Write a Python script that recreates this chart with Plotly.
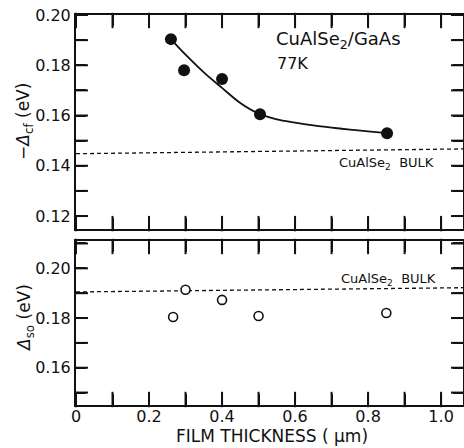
import plotly.graph_objects as go

# Top panel: -Delta_cf data (filled circles)
thick_cf = [0.26, 0.296, 0.40, 0.504, 0.852]
dcf = [0.1904, 0.178, 0.1745, 0.1605, 0.1529]
# fitted curve
curve_x = [0.26, 0.30, 0.35, 0.40, 0.45, 0.50, 0.55, 0.60, 0.65, 0.70, 0.75, 0.80, 0.852]
curve_y = [0.1904, 0.1842, 0.1772, 0.1710, 0.1650, 0.1608, 0.1585, 0.1572, 0.1561, 0.1552, 0.1544, 0.1537, 0.1530]
bulk_cf_x = [0.0, 1.06]
bulk_cf_y = [0.1448, 0.1467]

# Bottom panel: Delta_so data (open circles)
thick_so = [0.266, 0.30, 0.40, 0.50, 0.85]
dso = [0.1804, 0.1914, 0.1873, 0.1808, 0.1820]
bulk_so_x = [0.0, 1.06]
bulk_so_y = [0.1905, 0.1922]

x_range = [0.0, 1.06]
y1_range = [0.1148, 0.20]
y2_range = [0.145, 0.211]
x_tickvals = [0, 0.1, 0.2, 0.3, 0.4, 0.5, 0.6, 0.7, 0.8, 0.9, 1.0]
x_ticktext = ["0", "", "0.2", "", "0.4", "", "0.6", "", "0.8", "", "1.0"]
y1_tickvals = [0.12, 0.13, 0.14, 0.15, 0.16, 0.17, 0.18, 0.19, 0.20]
y1_ticktext = ["0.12", "", "0.14", "", "0.16", "", "0.18", "", "0.20"]
y2_tickvals = [0.15, 0.16, 0.17, 0.18, 0.19, 0.20, 0.21]
y2_ticktext = ["", "0.16", "", "0.18", "", "0.20", ""]

FONT = "DejaVu Sans"
BLACK = "#111111"

L, R, T, B = 76, 1, 15, 43
W, H = 464 - L - R, 448 - T - B
TOP_DOM = [0.451, 1.0]
BOT_DOM = [0.0, 0.4205]
XTICK_PX, YTICK_PX = 11, 10

fig = go.Figure()

# inward tick marks drawn as short line markers sitting just inside each frame edge
for xa, ya, yr, yvals, dom in (("x", "y", y1_range, y1_tickvals, TOP_DOM),
                               ("x2", "y2", y2_range, y2_tickvals, BOT_DOM)):
    ph = (dom[1] - dom[0]) * H
    half_dy = XTICK_PX / 2 / ph * (yr[1] - yr[0])
    half_dx = YTICK_PX / 2 / W * (x_range[1] - x_range[0])
    fig.add_trace(go.Scatter(
        x=x_tickvals * 2,
        y=[yr[0] + half_dy] * len(x_tickvals) + [yr[1] - half_dy] * len(x_tickvals),
        mode="markers", hoverinfo="skip", cliponaxis=False,
        marker=dict(symbol="line-ns", size=XTICK_PX, line=dict(width=2, color=BLACK)),
        xaxis=xa, yaxis=ya, showlegend=False))
    fig.add_trace(go.Scatter(
        x=[x_range[0] + half_dx] * len(yvals) + [x_range[1] - half_dx] * len(yvals),
        y=yvals * 2,
        mode="markers", hoverinfo="skip", cliponaxis=False,
        marker=dict(symbol="line-ew", size=YTICK_PX, line=dict(width=2, color=BLACK)),
        xaxis=xa, yaxis=ya, showlegend=False))

fig.add_trace(go.Scatter(x=bulk_cf_x, y=bulk_cf_y, mode="lines",
                         line=dict(color=BLACK, width=1.3, dash="4px,3px"),
                         xaxis="x", yaxis="y", showlegend=False))
fig.add_trace(go.Scatter(x=curve_x, y=curve_y, mode="lines",
                         line=dict(color=BLACK, width=1.8, shape="spline"),
                         xaxis="x", yaxis="y", showlegend=False))
fig.add_trace(go.Scatter(x=thick_cf, y=dcf, mode="markers",
                         marker=dict(color=BLACK, size=12),
                         xaxis="x", yaxis="y", showlegend=False))
fig.add_trace(go.Scatter(x=bulk_so_x, y=bulk_so_y, mode="lines",
                         line=dict(color=BLACK, width=1.3, dash="4px,3px"),
                         xaxis="x2", yaxis="y2", showlegend=False))
fig.add_trace(go.Scatter(x=thick_so, y=dso, mode="markers",
                         marker=dict(color="white", size=9, line=dict(color=BLACK, width=1.6)),
                         xaxis="x2", yaxis="y2", showlegend=False))

common_x = dict(range=x_range, showgrid=False, zeroline=False, showline=True,
                linecolor=BLACK, linewidth=2, mirror="allticks", ticks="inside",
                ticklen=XTICK_PX, tickwidth=2, tickcolor=BLACK, automargin=False,
                tickmode="array", tickvals=x_tickvals, ticktext=x_ticktext)
common_y = dict(showgrid=False, zeroline=False, showline=True, linecolor=BLACK,
                linewidth=2, mirror="allticks", ticks="inside", ticklen=YTICK_PX,
                tickwidth=2, tickcolor=BLACK, automargin=False, tickmode="array",
                tickfont=dict(family=FONT, size=16, color=BLACK))

fig.update_layout(
    template="none",
    width=464, height=448,
    margin=dict(l=L, r=R, t=T, b=B, autoexpand=False),
    paper_bgcolor="white", plot_bgcolor="white",
    hovermode=False, showlegend=False,
    font=dict(family=FONT, color=BLACK),
    xaxis=dict(common_x, domain=[0, 1], anchor="y", showticklabels=False),
    yaxis=dict(common_y, domain=TOP_DOM, anchor="x", range=y1_range,
               tickvals=y1_tickvals, ticktext=y1_ticktext),
    xaxis2=dict(common_x, domain=[0, 1], anchor="y2", ticklabelstandoff=-4,
                tickfont=dict(family=FONT, size=16, color=BLACK)),
    yaxis2=dict(common_y, domain=BOT_DOM, anchor="x2", range=y2_range,
                tickvals=y2_tickvals, ticktext=y2_ticktext),
    annotations=[
        dict(text="CuAlSe<sub>2</sub>/GaAs", x=338, y=40,
             showarrow=False, font=dict(family=FONT, size=18, color=BLACK)),
        dict(text="77K", x=292, y=63, showarrow=False,
             font=dict(family=FONT, size=16, color=BLACK)),
        dict(text="CuAlSe<sub>2</sub>  BULK", x=386, y=163, showarrow=False,
             font=dict(family=FONT, size=13, color=BLACK)),
        dict(text="CuAlSe<sub>2</sub>  BULK", x=388, y=279, showarrow=False,
             font=dict(family=FONT, size=13, color=BLACK)),
        dict(text="−<i>Δ</i><sub>cf</sub> (eV)", x=24, y=122, textangle=-90, showarrow=False,
             font=dict(family=FONT, size=17, color=BLACK)),
        dict(text="<i>Δ</i><sub>so</sub> (eV)", x=25, y=318, textangle=-90, showarrow=False,
             font=dict(family=FONT, size=17, color=BLACK)),
        dict(text="FILM THICKNESS ( μm)", x=272, y=436, showarrow=False,
             font=dict(family=FONT, size=17, color=BLACK)),
    ],
)

for a in fig.layout.annotations:
    a.xref = "paper"
    a.yref = "paper"
    a.x = (a.x - L) / W
    a.y = (448 - B - a.y) / H
    a.xanchor = "center"
    a.yanchor = "middle"

fig.write_html("out.html", config={"displayModeBar": False})
with open("out.html", "r", encoding="utf-8") as f:
    html = f.read()
html = html.replace("<head>", "<head><style>html,body{margin:0;padding:0;}</style>", 1)
with open("out.html", "w", encoding="utf-8") as f:
    f.write(html)
